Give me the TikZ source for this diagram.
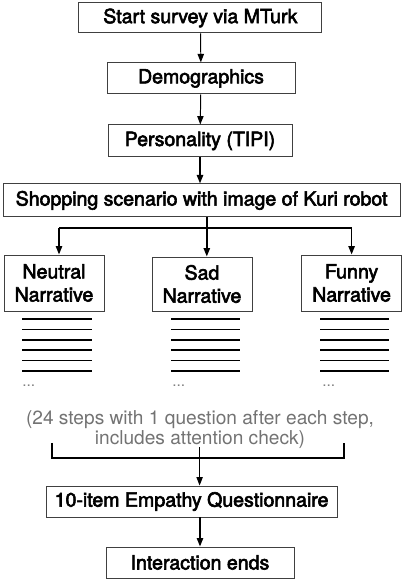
\documentclass[tikz,border=0pt]{standalone}
\usepackage{fontspec}
\setmainfont{TeX Gyre Heros}
\newfontfamily\medfont{TeX Gyre Heros}[FakeBold=3]
\usepackage{tikz}
\usetikzlibrary{arrows.meta}

\begin{document}
\begin{tikzpicture}
[
flowbox/.style={rectangle, draw=black!75, fill=white, line width=0.7pt, font=\medfont\fontsize{13.9}{16.4}\selectfont, inner sep=0pt},
narrbox/.style={rectangle, draw=black!75, fill=white, line width=0.7pt, minimum width=2.5cm, align=center, font=\medfont\fontsize{13.9}{16.4}\selectfont, inner sep=0pt},
notetext/.style={text=black!55, font=\fontsize{13.6}{16}\selectfont, inner sep=0pt},
dotstext/.style={text=black!50, font=\fontsize{11}{12}\selectfont, inner sep=0pt, anchor=west},
myarrow/.style={-{Triangle[length=6pt,width=4.5pt]}, line width=0.7pt},
myarrow2/.style={-{Triangle[length=6pt,width=4.5pt]}, line width=1.1pt}
]
\useasboundingbox (0,0) rectangle (10.1,14.5);
%top of the flow
\node at (5.01,14.05) [flowbox, minimum width=6.075cm, minimum height=0.75cm] (start) {Start survey via MTurk};
\node at (5.025,12.54) [flowbox, minimum width=4.7cm, minimum height=0.775cm] (demo) {Demographics};
\node at (5.0,10.975) [flowbox, minimum width=4.6cm, minimum height=0.8cm] (tipi) {Personality (TIPI)};
\node at (5.04,9.49) [flowbox, minimum width=9.925cm, minimum height=0.825cm] (shop) {Shopping scenario with image of Kuri robot};
\draw[myarrow] (start) -- (demo);
\draw[myarrow] (demo) -- (tipi);
\draw[myarrow2] (tipi) -- (tipi |- shop.north);

%split into three narratives
\node at (1.35,7.425) [narrbox, minimum height=1.4cm] (neutral) {Neutral\\Narrative};
\node at (5.05,7.4) [narrbox, minimum height=1.35cm] (sad) {Sad\\Narrative};
\node at (8.79,7.425) [narrbox, minimum height=1.4cm] (funny) {Funny\\Narrative};
\coordinate (spL) at (1.475,8.8);
\coordinate (spC) at (5.17,8.8);
\coordinate (spR) at (8.79,8.8);
\draw[line width=1.1pt] (spC |- shop.south) -- (spC);
\draw[line width=1.1pt] (spL) -- (spR);
\draw[myarrow2] (spL) -- (spL |- neutral.north);
\draw[myarrow2] (spC) -- (spC |- sad.north);
\draw[myarrow2] (spR) -- (spR |- funny.north);

%steps under each narrative
\foreach \i in {0,...,5} {
  \draw[line width=1.2pt] (0.55,6.52-0.2575*\i) -- (2.3,6.52-0.2575*\i);
  \draw[line width=1.2pt] (4.275,6.52-0.2575*\i) -- (6.0,6.52-0.2575*\i);
  \draw[line width=1.2pt] (8.0,6.52-0.2575*\i) -- (9.725,6.52-0.2575*\i);
}
\node at (0.55,4.85) [dotstext] (dl) {...};
\node at (4.3,4.85) [dotstext] (dc) {...};
\node at (8.05,4.85) [dotstext] (dr) {...};
\node at (5.0,4.0) [notetext] (note1) {(24 steps with 1 question after each step,};
\node at (5.0,3.5) [notetext] (note2) {includes attention check)};

%bracket back together
\coordinate (brL) at (1.3,3.05);
\coordinate (brR) at (8.6,3.05);
\coordinate (brTop) at (4.99,3.325);
\draw[line width=0.9pt] (1.3,3.425) -- (brL) -- (brR) -- (8.6,3.425);

%end of the flow
\node at (4.79,1.9625) [flowbox, minimum width=7.275cm, minimum height=0.775cm] (quest) {10-item Empathy Questionnaire};
\node at (5.0,0.4375) [flowbox, minimum width=4.7cm, minimum height=0.775cm] (ends) {Interaction ends};
\draw[myarrow] (brTop) -- (brTop |- quest.north);
\draw[myarrow2] (ends.north |- quest.south) -- (ends.north);

\end{tikzpicture}
\end{document}
